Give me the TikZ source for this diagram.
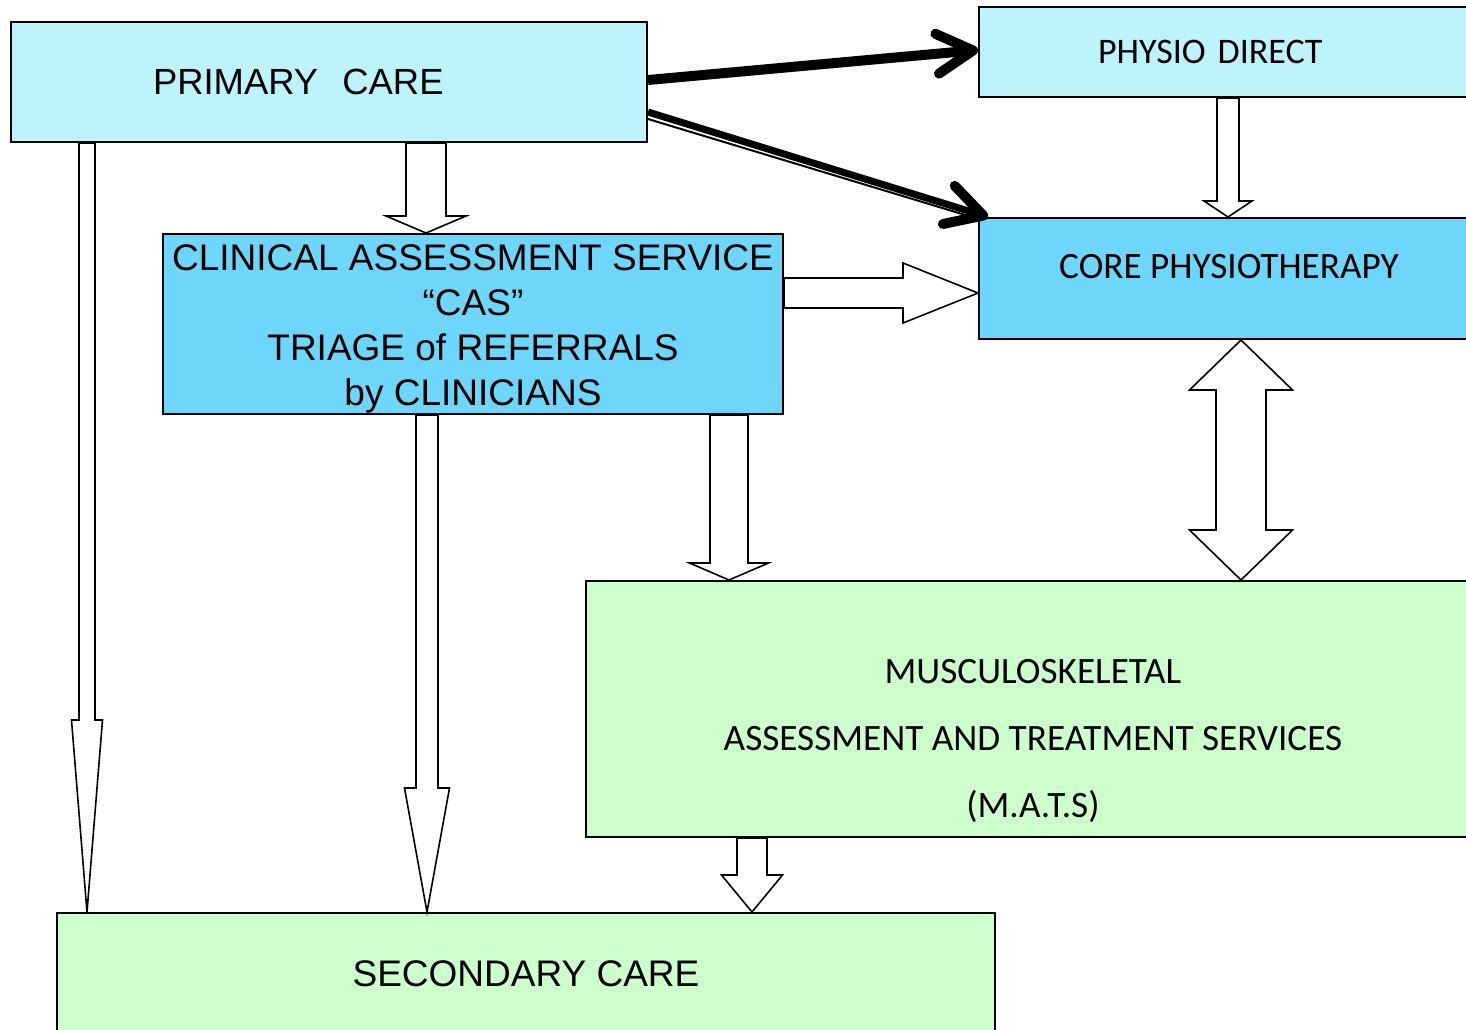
\documentclass[tikz,border=0pt]{standalone}
\usepackage{fontspec}
\setmainfont{Liberation Sans}
\newfontfamily\calibri{Carlito}
\usepackage{xcolor}
\usetikzlibrary{arrows.meta, calc}

\definecolor{paleblue}{RGB}{189,243,251}
\definecolor{skyblue}{RGB}{110,214,250}
\definecolor{palegreen}{RGB}{204,255,204}

% hollow block arrows: centre, from node, to node, shaft half width, head half width, head length (px)
\newcommand{\downblock}[6]{%
  \draw[hollow] (#1-#4,0 |- #2.south) -- ($(#1-#4,0 |- #3.north)+(0,-#6)$) -- ($(#1-#5,0 |- #3.north)+(0,-#6)$)
    -- (#1,0 |- #3.north) -- ($(#1+#5,0 |- #3.north)+(0,-#6)$) -- ($(#1+#4,0 |- #3.north)+(0,-#6)$)
    -- (#1+#4,0 |- #2.south) -- cycle;}
\newcommand{\rightblock}[6]{%
  \draw[hollow] (#2.east |- 0,#1-#4) -- ($(#3.west |- 0,#1-#4)+(-#6,0)$) -- ($(#3.west |- 0,#1-#5)+(-#6,0)$)
    -- (#3.west |- 0,#1) -- ($(#3.west |- 0,#1+#5)+(-#6,0)$) -- ($(#3.west |- 0,#1+#4)+(-#6,0)$)
    -- (#2.east |- 0,#1+#4) -- cycle;}
\newcommand{\bothblock}[6]{%
  \draw[hollow] (#1,0 |- #2.south) -- ($(#1+#5,0 |- #2.south)+(0,#6)$) -- ($(#1+#4,0 |- #2.south)+(0,#6)$)
    -- ($(#1+#4,0 |- #3.north)+(0,-#6)$) -- ($(#1+#5,0 |- #3.north)+(0,-#6)$) -- (#1,0 |- #3.north)
    -- ($(#1-#5,0 |- #3.north)+(0,-#6)$) -- ($(#1-#4,0 |- #3.north)+(0,-#6)$)
    -- ($(#1-#4,0 |- #2.south)+(0,#6)$) -- ($(#1-#5,0 |- #2.south)+(0,#6)$) -- cycle;}

\begin{document}
\begin{tikzpicture}[x=0.5pt, y=-0.5pt,
    box/.style={rectangle, draw, line width=1pt, anchor=north west, inner sep=2pt},
    lightbox/.style={box, fill=paleblue},
    bluebox/.style={box, fill=skyblue},
    greenbox/.style={box, fill=palegreen},
    arialfont/.style={font=\fontsize{18.5}{22.5}\selectfont},
    calibrifont/.style={font=\calibri\fontsize{18.6}{33.5}\selectfont},
    hollow/.style={draw, fill=white, line width=0.8pt},
    bold/.style={line width=5pt, -{Straight Barb[length=18pt, width=20pt, round]}}
]
\useasboundingbox (0,0) rectangle (1466,1029);

\node[lightbox, arialfont, font=\fontsize{18.2}{22.5}\selectfont, inner xsep=71pt, text width=176pt, align=left, minimum height=60pt] (primary) at (10,21) {PRIMARY\ \ CARE};
\node[lightbox, calibrifont, font=\calibri\fontsize{18}{22}\selectfont, inner xsep=59.5pt, text width=130pt, align=left, minimum height=45pt] (direct) at (978,6) {PHYSIO DIRECT};
\node[bluebox, calibrifont, minimum width=250pt, minimum height=60.5pt, text depth=12pt] (core) at (978,217) {CORE PHYSIOTHERAPY};
\node[bluebox, arialfont, minimum width=310pt, minimum height=90pt, inner ysep=0pt, align=center] (cas) at (162,233) {\rule{0pt}{17.5pt}CLINICAL ASSESSMENT SERVICE\\“CAS”\\TRIAGE of REFERRALS\\by CLINICIANS};
\node[greenbox, calibrifont, minimum width=447pt, minimum height=128pt, align=center] (mats) at (585,580) {\rule{0pt}{44pt}MUSCULOSKELETAL\\ASSESSMENT AND TREATMENT SERVICES\\(M.A.T.S)};
\node[greenbox, arialfont, minimum width=469pt, minimum height=61pt] (secondary) at (56,912) {SECONDARY CARE};

% referral routes
\downblock{426}{primary}{cas}{20}{40}{17}
\downblock{87}{primary}{secondary}{8}{15.5}{192}
\downblock{427}{cas}{secondary}{11}{22.5}{124}
\downblock{729}{cas}{mats}{19}{39.5}{17}
\downblock{752}{mats}{secondary}{15}{30.5}{37}
\downblock{1228}{direct}{core}{11}{24}{16}
\rightblock{293}{cas}{core}{15}{30}{75}
\bothblock{1241}{core}{mats}{25}{51.5}{50}

% direct routes
\draw[bold] (primary.east |- 0,80) -- (direct.west |- 0,50);
\draw[line width=1pt] (primary.east |- 0,119) -- ([xshift=-3pt]core.north west);
\draw[line width=3.5pt, -{Straight Barb[length=18pt, width=20pt, round, line width=5pt]}] (primary.east |- 0,112) -- ([xshift=5pt]core.north west);
\end{tikzpicture}
\end{document}
